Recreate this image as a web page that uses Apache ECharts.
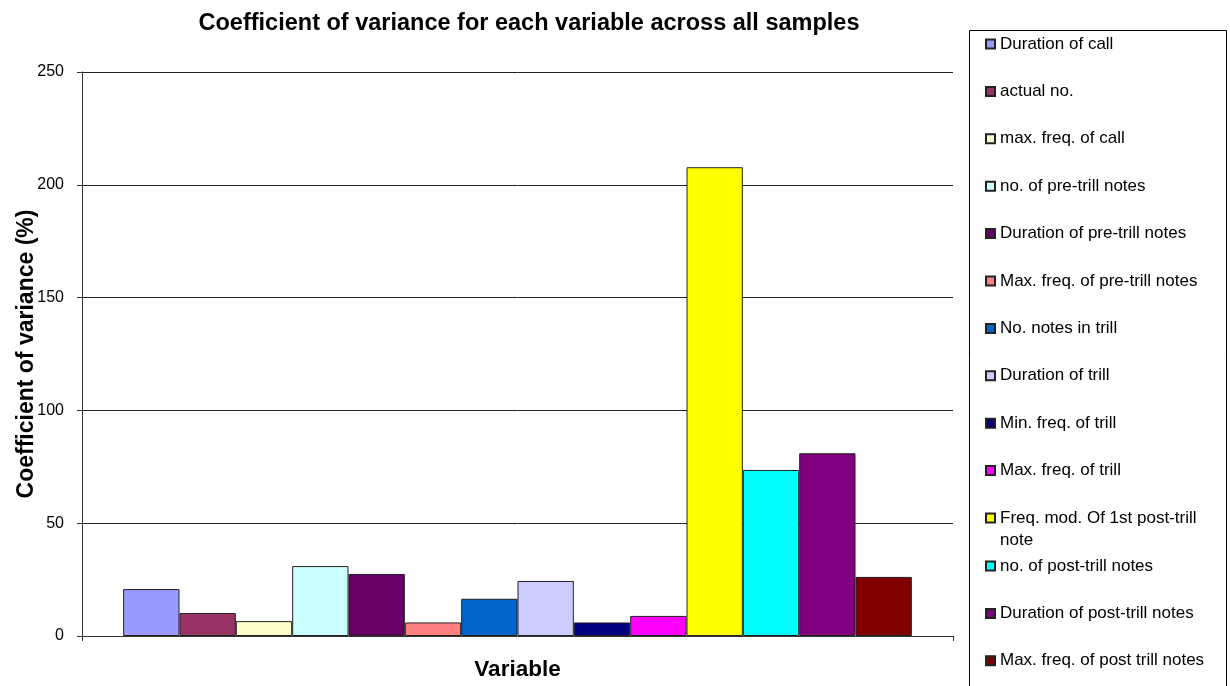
<!DOCTYPE html>
<html>
<head>
<meta charset="utf-8">
<title>Coefficient of variance for each variable across all samples</title>
<script src="https://cdn.jsdelivr.net/npm/echarts@6/dist/echarts.min.js"></script>
<style>
  html, body { margin: 0; padding: 0; background: #fff; }
  #chart { width: 1230px; height: 686px; }
</style>
</head>
<body>
<div id="chart"></div>
<script>
// Variables measured and their coefficient of variance (%)
const variables = [
  'Duration of call',
  'actual no.',
  'max. freq. of call',
  'no. of pre-trill notes',
  'Duration of pre-trill notes',
  'Max. freq. of pre-trill notes',
  'No. notes in trill',
  'Duration of trill',
  'Min. freq. of trill',
  'Max. freq. of trill',
  'Freq. mod. Of 1st post-trill note',
  'no. of post-trill notes',
  'Duration of post-trill notes',
  'Max. freq. of post trill notes'
];
const cvValues = [20.8, 10.2, 6.6, 31.0, 27.5, 6.0, 16.5, 24.4, 6.0, 8.9, 207.8, 73.6, 81.0, 26.2];
const barColors = [
  '#9999FF', '#993366', '#FFFFCC', '#CCFFFF', '#660066', '#FF8080', '#0066CC',
  '#CCCCFF', '#000080', '#FF00FF', '#FFFF00', '#00FFFF', '#800080', '#800000'
];
const yTicks = { min: 0, max: 250, interval: 50 };

const FONT = "'Liberation Sans', Arial, sans-serif";

const series = variables.map((name, i) => ({
  name: name,
  type: 'bar',
  data: [cvValues[i]],
  barGap: '0%',
  barCategoryGap: '9.45%',
  itemStyle: { color: barColors[i], borderColor: '#222', borderWidth: 1 },
  emphasis: { disabled: true },
  animation: false
}));

const legendText = { fontFamily: FONT, fontSize: 17, color: '#000', lineHeight: 18 };
const legendBase = {
  orient: 'vertical',
  left: 985,
  padding: 0,
  icon: 'rect',
  itemWidth: 9,
  itemHeight: 9,
  itemGap: 29.4,
  selectedMode: false,
  textStyle: legendText
};

const chart = echarts.init(document.getElementById('chart'), null, { renderer: 'canvas' });
chart.setOption({
  backgroundColor: '#fff',
  animation: false,
  title: {
    text: 'Coefficient of variance for each variable across all samples',
    left: 529,
    top: 12,
    padding: 0,
    textAlign: 'center',
    textStyle: { fontFamily: FONT, fontSize: 23.5, fontWeight: 'bold', color: '#000' }
  },
  grid: { left: 82, right: 277, top: 72, bottom: 50, containLabel: false, outerBoundsMode: 'none' },
  xAxis: {
    type: 'category',
    data: [''],
    name: 'Variable',
    nameLocation: 'middle',
    nameGap: 22,
    nameMoveOverlap: false,
    nameTextStyle: { fontFamily: FONT, fontSize: 22.5, fontWeight: 'bold', color: '#000', verticalAlign: 'top' },
    axisLine: { lineStyle: { color: '#333', width: 1 } },
    axisTick: { show: true, length: 5, lineStyle: { color: '#333' } },
    axisLabel: { show: false },
    splitLine: { show: false }
  },
  yAxis: {
    type: 'value',
    min: yTicks.min,
    max: yTicks.max,
    interval: yTicks.interval,
    name: 'Coefficient of variance (%)',
    nameLocation: 'middle',
    nameGap: 44,
    nameMoveOverlap: false,
    nameTextStyle: { fontFamily: FONT, fontSize: 23, fontWeight: 'bold', color: '#000' },
    axisLine: { show: true, lineStyle: { color: '#333', width: 1 } },
    axisTick: { show: true, length: 5, lineStyle: { color: '#333' } },
    axisLabel: { fontFamily: FONT, fontSize: 16, color: '#000', margin: 18 },
    splitLine: { show: true, lineStyle: { color: '#222', width: 1 } }
  },
  legend: [
    Object.assign({}, legendBase, { top: 35, data: variables.slice(0, 10) }),
    Object.assign({}, legendBase, {
      top: 485,
      data: variables.slice(10, 11),
      // blank first line keeps the swatch level with the first line of the wrapped name
      formatter: (name) => '\n' + name.replace(/ note$/, '\nnote'),
      textStyle: Object.assign({}, legendText, { lineHeight: 22 })
    }),
    Object.assign({}, legendBase, { top: 557, data: variables.slice(11) })
  ],
  graphic: [{
    type: 'rect',
    shape: { x: 969.5, y: 30.5, width: 257, height: 700 },
    style: { fill: 'none', stroke: '#000', lineWidth: 1 },
    silent: true
  }],
  series: series
});
</script>
</body>
</html>
